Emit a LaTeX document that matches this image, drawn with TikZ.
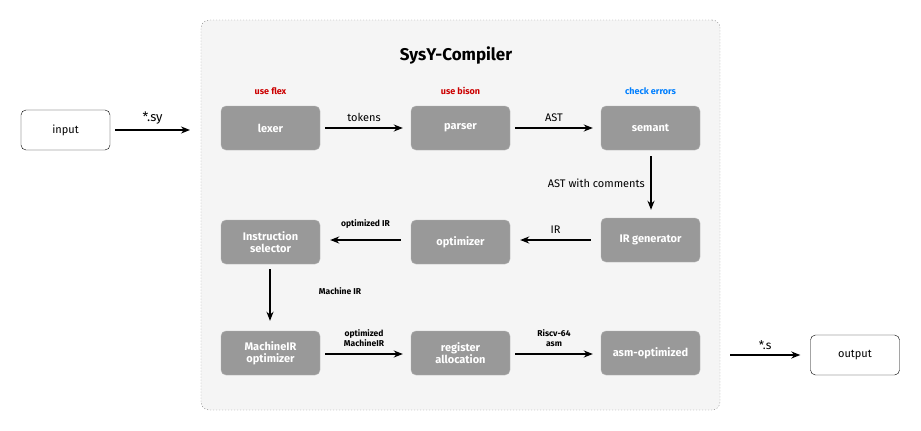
\documentclass[tikz,border=0pt]{standalone}
\usepackage{fontspec}
\setmainfont{Fira Sans}
\usetikzlibrary{arrows.meta}
\definecolor{boxgray}{HTML}{999999}
\definecolor{boxedge}{HTML}{B3B3B3}
\definecolor{panel}{HTML}{F5F5F5}
\definecolor{panelborder}{HTML}{777777}
\definecolor{redlab}{HTML}{CC0000}
\definecolor{bluelab}{HTML}{007FFF}
\begin{document}
\begin{tikzpicture}[x=1pt,y=-1pt,
  stage/.style={draw=boxedge,fill=boxgray,rounded corners=5pt,minimum width=99pt,minimum height=44pt,text=white,font=\bfseries\fontsize{11}{12}\selectfont,align=center,inner sep=1pt},
  io/.style={draw=black,fill=white,rounded corners=5pt,minimum width=89pt,minimum height=40pt,font=\fontsize{11}{13}\selectfont},
  flow/.style={-{Stealth[length=9pt,width=7pt]},line width=1.8pt},
  elab/.style={font=\fontsize{11}{13}\selectfont},
  slab/.style={font=\bfseries\fontsize{8.5}{10.5}\selectfont,align=center},
  toplab/.style={font=\bfseries\fontsize{9}{11}\selectfont}]
\useasboundingbox (0,0) rectangle (921,431);
\node[draw=panelborder,dash pattern=on 1pt off 2pt,fill=panel,rounded corners=8pt,minimum width=519pt,minimum height=390pt] (panel) at (460.5,215) {};
\node[font=\bfseries\fontsize{17}{20}\selectfont] (title) at (456,55) {SysY-Compiler};

\node[stage] (lexer) at (270.5,128) {lexer};
\node[stage] (parser) at (460.5,128) {parser};
\node[stage] (semant) at (650.5,128) {semant};
\node[stage] (irgen) at (650.5,240) {IR generator};
\node[stage] (opt) at (460.5,242) {optimizer};
\node[stage] (isel) at (270.5,242) {Instruction\\selector};
\node[stage] (mopt) at (270.5,353) {MachineIR\\optimizer};
\node[stage] (ra) at (460.5,353) {register\\allocation};
\node[stage] (asmopt) at (650.5,353) {asm-optimized};

\node[toplab,text=redlab] (l1) at (270.5,91) {use flex};
\node[toplab,text=redlab] (l2) at (460.5,91) {use bison};
\node[toplab,text=bluelab] (l3) at (650.5,91) {check errors};

\node[io] (input) at (65.5,130) {input};
\node[io] (output) at (855,355) {output};

\coordinate (inend) at (190,130);
\coordinate (outstart) at (730,355);

\draw[flow] ([xshift=5pt]input.east) -- (inend) node[midway,above=1pt,font=\fontsize{13}{15}\selectfont] {*.sy};
\draw[flow] (outstart) -- ([xshift=-10pt]output.west) node[midway,above=1pt,font=\fontsize{12}{14}\selectfont] {*.s};

\draw[flow] ([xshift=5pt]lexer.east) -- ([xshift=-8pt]parser.west) node[midway,above=2pt,elab] {tokens};
\draw[flow] ([xshift=5pt]parser.east) -- ([xshift=-8pt]semant.west) node[midway,above=2pt,elab] {AST};
\draw[flow] ([xshift=0.5pt,yshift=-6pt]semant.south) -- ([xshift=0.5pt,yshift=8pt]irgen.north) node[midway,left=2pt,elab] {AST with comments};
\draw[flow] ([xshift=-10pt]irgen.west) -- ([xshift=10pt]irgen.west -| opt.east) node[midway,above=2pt,elab] {IR};
\draw[flow] ([xshift=-10pt]opt.west |- irgen.west) -- ([xshift=10pt]irgen.west -| isel.east) node[midway,above=7pt,slab] {optimized IR};
\draw[flow] ([xshift=-0.5pt,yshift=-5pt]isel.south) -- ([xshift=-0.5pt,yshift=10pt]mopt.north);
\node[slab] (mirlab) at (340,291) {Machine IR};
\draw[flow] ([xshift=5pt,yshift=-1pt]mopt.east) -- ([xshift=-8pt,yshift=-1pt]ra.west) node[midway,above=3pt,slab] {optimized\\MachineIR};
\draw[flow] ([xshift=5pt,yshift=-1pt]ra.east) -- ([xshift=-8pt,yshift=-1pt]asmopt.west) node[midway,above=3pt,slab] {Riscv-64\\asm};
\end{tikzpicture}
\end{document}
